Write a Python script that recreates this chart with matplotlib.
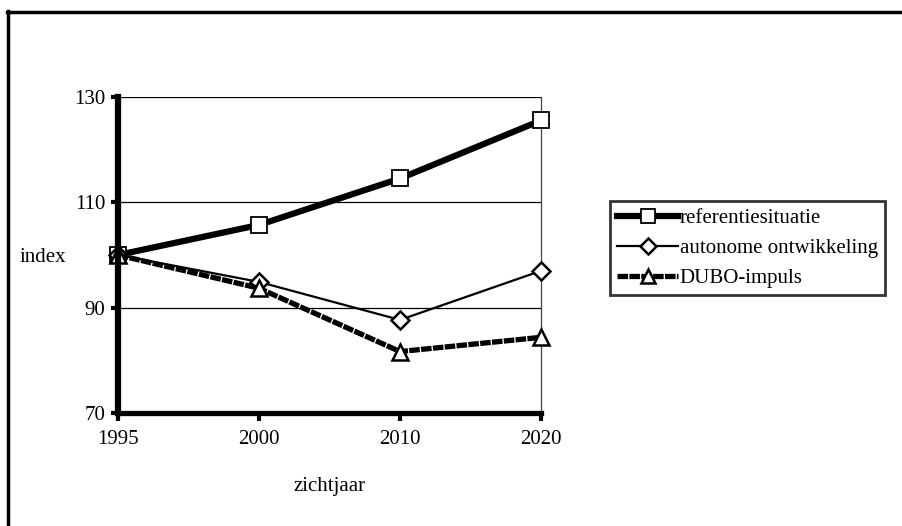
import matplotlib
matplotlib.use("Agg")
import matplotlib.pyplot as plt
from matplotlib.lines import Line2D

plt.rcParams['font.family'] = ['Liberation Serif', 'DejaVu Serif']

years = ['1995', '2000', '2010', '2020']
referentie = [100, 105.7, 114.5, 125.5]
autonome = [100, 94.9, 87.7, 97.0]
dubo = [100, 93.7, 81.7, 84.4]
yticks = [70, 90, 110, 130]

fig = plt.figure(figsize=(9.02, 5.26), dpi=100)
ax = fig.add_axes([118/902, 1-413.3/526, (541-118)/902, (413.3-96.7)/526])

x = list(range(len(years)))
ax.plot(x, referentie, color='black', lw=4.5, marker='s', ms=11, mfc='white',
        mec='black', mew=1.3, label='referentiesituatie', zorder=3, clip_on=False)
ax.plot(x, autonome, color='black', lw=1.6, marker='D', ms=9, mfc='white',
        mec='black', mew=1.8, label='autonome ontwikkeling', zorder=4, clip_on=False)
ax.plot(x, dubo, color='black', lw=3.8, linestyle=(0, (2, 0.25)), marker='^', ms=11,
        mfc='white', mec='black', mew=1.8, label='DUBO-impuls', zorder=5, clip_on=False)

ax.set_xlim(0, 3)
ax.set_ylim(70, 130)
ax.set_xticks(x)
ax.set_xticklabels(years, fontsize=15)
ax.set_yticks(yticks)
ax.set_yticklabels([str(v) for v in yticks], fontsize=15)
ax.tick_params(axis='y', direction='out', length=5, width=3, pad=4)
ax.tick_params(axis='x', direction='out', length=6, width=3, pad=6)

for v in yticks[1:]:
    ax.axhline(v, color='black', lw=0.9, zorder=1)

ax.spines['top'].set_visible(False)
ax.spines['left'].set_linewidth(4.5)
ax.spines['bottom'].set_linewidth(3.8)
ax.spines['right'].set_linewidth(0.9)
ax.spines['right'].set_color('#444444')
ax.spines['left'].set_zorder(6)
ax.spines['bottom'].set_zorder(6)
for sp in ax.spines.values():
    sp.set_clip_on(False)

fig.text(20/902, 1-257/526, 'index', fontsize=15, ha='left', va='center')
fig.text(330/902, 1-487/526, 'zichtjaar', fontsize=15, ha='center', va='center')

leg = ax.legend(loc='upper left', bbox_to_anchor=(610/902, 1-201/526),
                bbox_transform=fig.transFigure, fontsize=15, frameon=True,
                fancybox=False, edgecolor='black', handlelength=2.9,
                handletextpad=0.1, borderpad=0.35, labelspacing=0.5,
                borderaxespad=0, markerscale=0.9)
leg.get_frame().set_linewidth(2)

# outer frame lines
fig.add_artist(Line2D([7/902, 1], [1-12/526, 1-12/526], color='black', lw=2.5,
                      transform=fig.transFigure))
fig.add_artist(Line2D([8/902, 8/902], [1-11/526, 0], color='black', lw=2.5,
                      transform=fig.transFigure))

fig.savefig('out.png', dpi=100)
